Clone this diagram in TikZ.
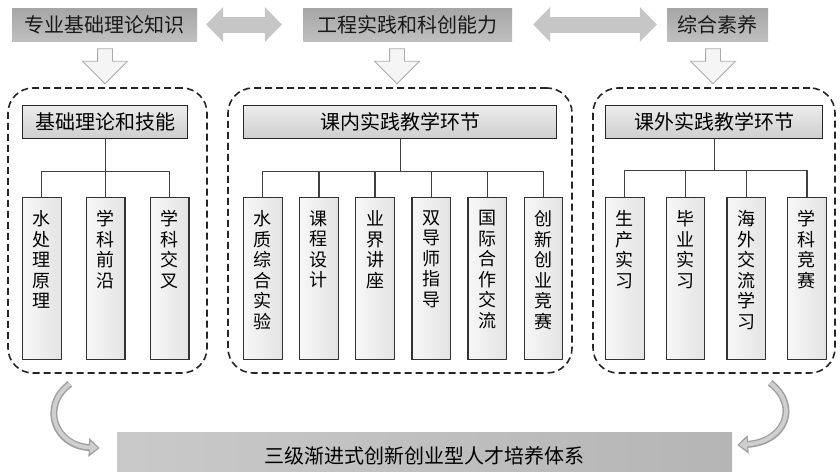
\documentclass[tikz,border=0pt]{standalone}
\usepackage{fontspec}
\setmainfont{Noto Sans CJK SC}
\usetikzlibrary{positioning,shapes.arrows,arrows.meta}

\newcommand{\colstack}[1]{\parbox[t][136pt][t]{20pt}{\centering #1}}

\tikzset{
  topbox/.style={minimum height=33pt, inner sep=0pt, top color=gray!70, bottom color=gray!50,
    font=\fontsize{20pt}{24pt}\selectfont, text=black!90},
  dblarr/.style={draw=gray!45, line width=16pt,
    {Triangle[length=17pt,width=34pt]}-{Triangle[length=17pt,width=34pt]}},
  downarr/.style={single arrow, rotate=-90, minimum height=35pt, minimum width=44pt,
    inner xsep=0pt, inner ysep=7pt, single arrow head extend=15pt,
    fill=gray!8, draw=gray!65, line width=0.9pt},
  grp/.style={draw=black!85, dash pattern=on 7pt off 4pt, line width=1.6pt, rounded corners=25pt},
  head/.style={anchor=north west, minimum height=33pt, inner sep=0pt, draw=black!85, line width=1.3pt,
    top color=gray!15, bottom color=gray!38, font=\fontsize{20pt}{24pt}\selectfont},
  leaf/.style={minimum width=38.5pt, minimum height=162pt, inner xsep=0pt, inner ysep=13pt,
    draw=black!80, line width=1.2pt, left color=gray!6, right color=gray!22,
    font=\fontsize{18pt}{20.5pt}\selectfont},
  tree/.style={draw=black!75, line width=1.2pt},
  sysbox/.style={minimum height=48pt, inner sep=0pt, left color=gray!42, right color=gray!58,
    font=\fontsize{20pt}{24pt}\selectfont},
  curl/.style={draw=gray!75, line width=7pt, -{Triangle[length=11pt,width=18pt]}},
  curlin/.style={draw=gray!38, line width=4pt, shorten >=1.8pt, -{Triangle[length=8pt,width=12pt]}}
}

\begin{document}
\begin{tikzpicture}[x=1pt,y=-1pt]
\useasboundingbox (0,0) rectangle (840,471);

% top row
\node[topbox, minimum width=185pt] (zy) at (104.5,24.5) {专业基础理论知识};
\node[topbox, minimum width=209pt] (gc) at (407.5,24.5) {工程实践和科创能力};
\node[topbox, minimum width=101pt] (zh) at (717.5,24.5) {综合素养};
\draw[dblarr, shorten <=9pt, shorten >=21pt] (zy) -- (gc);
\draw[dblarr, shorten <=21pt, shorten >=10pt] (gc) -- (zh);

\node[downarr] (d1) at (105,62.5) {};
\node[downarr] (d2) at (397,62.5) {};
\node[downarr] (d3) at (713,62.5) {};

% dashed groups
\node[grp, minimum width=199pt, minimum height=285pt] (g1) at (107.5,230.5) {};
\node[grp, minimum width=344pt, minimum height=285pt] (g2) at (400,230.5) {};
\node[grp, minimum width=242pt, minimum height=285pt] (g3) at (714,230.5) {};

\node[head, minimum width=165pt] (h1) at (22,105) {基础理论和技能};
\node[head, minimum width=313pt] (h2) at (243,105) {课内实践教学环节};
\node[head, minimum width=217pt] (h3) at (605,105) {课外实践教学环节};

% leaves
\node[leaf, anchor=north west] (b1) at (22,197) {\colstack{水\\处\\理\\原\\理}};
\node[leaf, right=24.25pt of b1] (b2) {\colstack{学\\科\\前\\沿}};
\node[leaf, right=24.25pt of b2] (b3) {\colstack{学\\科\\交\\叉}};

\node[leaf, anchor=north west] (b4) at (243,197) {\colstack{水\\质\\综\\合\\实\\验}};
\node[leaf, right=16.4pt of b4] (b5) {\colstack{课\\程\\设\\计}};
\node[leaf, right=16.4pt of b5] (b6) {\colstack{业\\界\\讲\\座}};
\node[leaf, right=16.4pt of b6] (b7) {\colstack{双\\导\\师\\指\\导}};
\node[leaf, right=16.4pt of b7] (b8) {\colstack{国\\际\\合\\作\\交\\流}};
\node[leaf, right=16.4pt of b8] (b9) {\colstack{创\\新\\创\\业\\竞\\赛}};

\node[leaf, anchor=north west] (b10) at (605,197) {\colstack{生\\产\\实\\习}};
\node[leaf, right=21pt of b10] (b11) {\colstack{毕\\业\\实\\习}};
\node[leaf, right=21pt of b11] (b12) {\colstack{海\\外\\交\\流\\学\\习}};
\node[leaf, right=21pt of b12] (b13) {\colstack{学\\科\\竞\\赛}};

% tree lines
\draw[tree] (h1.south) -- ++(0,32) coordinate (j1);
\draw[tree] (b1.north) |- (j1) -| (b3.north);
\draw[tree] (b2.north) -- (b2.north |- j1);

\draw[tree] (h2.south) -- ++(0,32) coordinate (j2);
\draw[tree] (b4.north) |- (j2) -| (b9.north);
\draw[tree] (b5.north) -- (b5.north |- j2);
\draw[tree] (b6.north) -- (b6.north |- j2);
\draw[tree] (b7.north) -- (b7.north |- j2);
\draw[tree] (b8.north) -- (b8.north |- j2);

\draw[tree] (h3.south) -- ++(0,31) coordinate (j3);
\draw[tree] (b10.north) |- (j3) -| (b13.north);
\draw[tree] (b11.north) -- (b11.north |- j3);
\draw[tree] (b12.north) -- (b12.north |- j3);

% bottom
\node[sysbox, minimum width=615pt] (sys) at (424.5,456) {三级渐进式创新创业型人才培养体系};

\draw[curl] ([shift={(-37.5,10)}]g1.south) .. controls +(-30,22) and +(-45,-2) .. ([shift={(-17,-8)}]sys.west);
\draw[curlin] ([shift={(-37.5,10)}]g1.south) .. controls +(-30,22) and +(-45,-2) .. ([shift={(-17,-8)}]sys.west);
\draw[curl] ([shift={(56,9)}]g3.south) .. controls +(30,23) and +(48,-3) .. ([shift={(5,-11)}]sys.east);
\draw[curlin] ([shift={(56,9)}]g3.south) .. controls +(30,23) and +(48,-3) .. ([shift={(5,-11)}]sys.east);
\end{tikzpicture}
\end{document}
